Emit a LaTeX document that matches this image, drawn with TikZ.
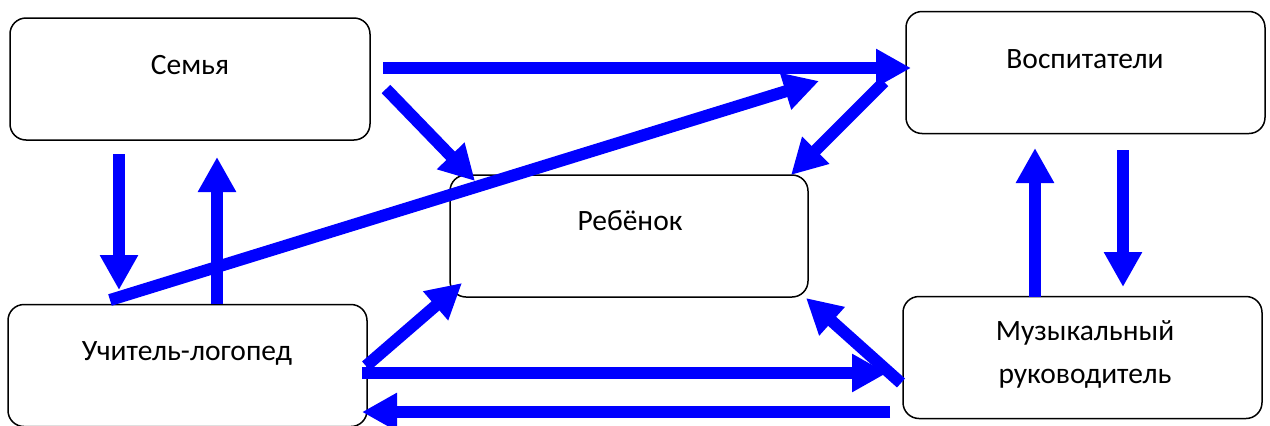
\documentclass[tikz,border=0pt]{standalone}
\usepackage{fontspec}
\setmainfont{Carlito}
\usetikzlibrary{arrows.meta}
\tikzset{
  box/.style={draw=black, line width=1.5pt, rounded corners=16pt, minimum width=#1, minimum height=122pt, inner sep=0pt},
  lbl/.style={font=\fontsize{29.5}{43}\selectfont, align=center, inner sep=0pt},
  flow/.style={draw=blue, line width=12pt, -{Triangle[width=36pt,length=35pt]}}
}
\begin{document}
\begin{tikzpicture}[x=1pt,y=-1pt]
\useasboundingbox (0,0) rectangle (1270,426);
% boxes
\node[box=360pt] (semya) at (190,79) {};
\node[lbl] (semyaT) at (190,65) {Семья};
\node[box=359pt] (vosp) at (1085.5,72.5) {};
\node[lbl] (vospT) at (1085,59) {Воспитатели};
\node[box=358pt] (reb) at (629,236) {};
\node[lbl] (rebT) at (630,221) {Ребёнок};
\node[box=359pt] (log) at (187.5,365.5) {};
\node[lbl] (logT) at (187,353) {Учитель-логопед};
\node[box=359pt] (muz) at (1082.5,357.5) {};
\node[lbl] (muzT) at (1085,354.5) {Музыкальный\\руководитель};
% arrow end points
\coordinate (a1s) at (383,68);  \coordinate (a1e) at (911,68);
\coordinate (a2s) at (386,89);  \coordinate (a2e) at (475,181);
\coordinate (a3s) at (110,300); \coordinate (a3e) at (819,81);
\coordinate (a4s) at (884,82);  \coordinate (a4e) at (791,175);
\coordinate (a5s) at (119,154); \coordinate (a5e) at (119,290);
\coordinate (a6s) at (217,304); \coordinate (a6e) at (217,157);
\coordinate (a7s) at (1123,150);\coordinate (a7e) at (1123,287);
\coordinate (a8s) at (1035,297);\coordinate (a8e) at (1035,148);
\coordinate (a9s) at (366,366); \coordinate (a9e) at (462,283);
\coordinate (a10s) at (362,373);\coordinate (a10e) at (887,373);
\coordinate (a11s) at (890,412);\coordinate (a11e) at (362,412);
\coordinate (a12s) at (901,383);\coordinate (a12e) at (806,298);
% arrows
\draw[flow] (a1s) -- (a1e);
\draw[flow] (a2s) -- (a2e);
\draw[flow] (a4s) -- (a4e);
\draw[flow] (a5s) -- (a5e);
\draw[flow] (a6s) -- (a6e);
\draw[flow] (a3s) -- (a3e);
\draw[flow] (a7s) -- (a7e);
\draw[flow] (a8s) -- (a8e);
\draw[flow] (a9s) -- (a9e);
\draw[flow] (a10s) -- (a10e);
\draw[flow] (a11s) -- (a11e);
\draw[flow] (a12s) -- (a12e);
\end{tikzpicture}
\end{document}
